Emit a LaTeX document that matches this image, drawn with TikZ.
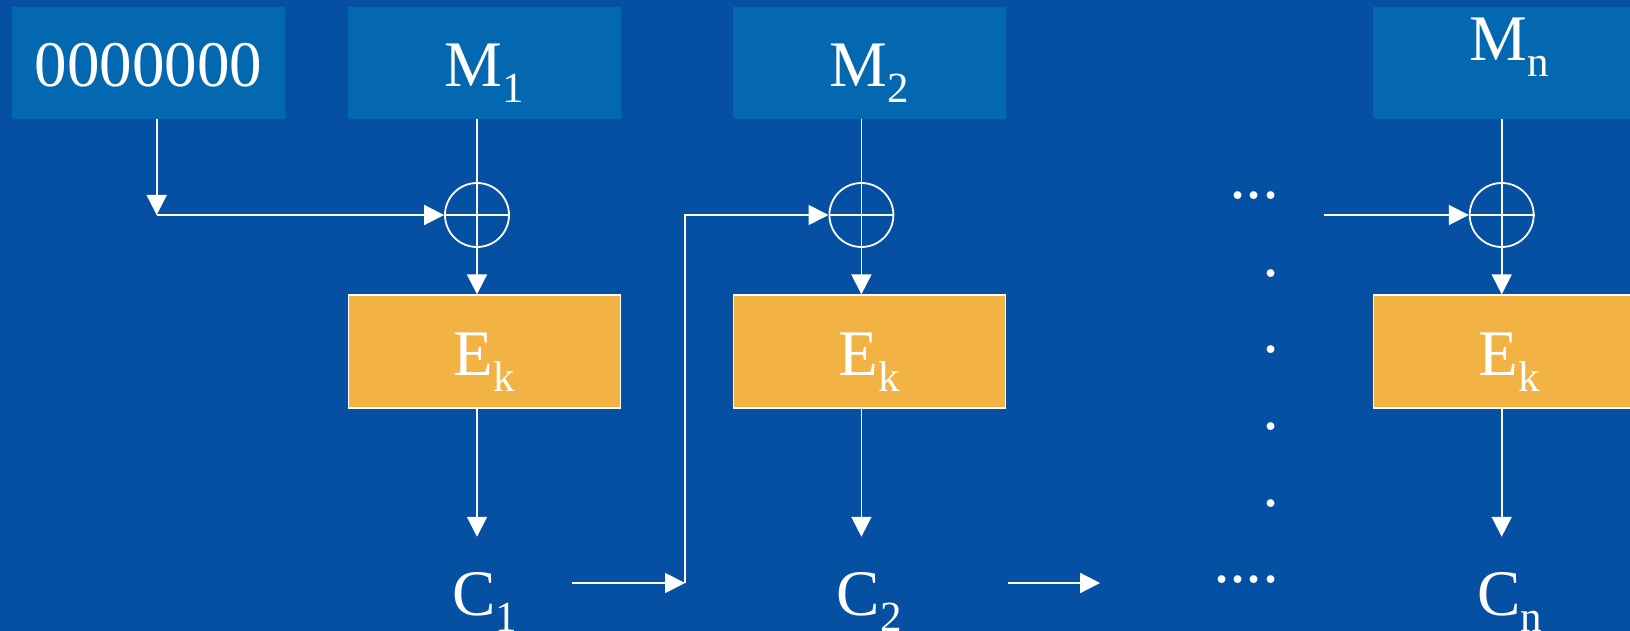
\documentclass[tikz,border=0pt]{standalone}
\usepackage{fontspec}
\setmainfont{Liberation Serif}
\usetikzlibrary{arrows.meta,calc}
\definecolor{bgblue}{HTML}{0550A3}
\definecolor{boxblue}{HTML}{0368B0}
\definecolor{encorange}{HTML}{F3B244}
\newcommand{\lowsub}[1]{\raisebox{-16pt}{\fontsize{43}{43}\selectfont #1}}
\begin{document}
\begin{tikzpicture}[x=1pt,y=-1pt,
  bigtext/.style={text=white,font=\fontsize{65}{78}\selectfont,inner sep=0pt,anchor=base},
  mbox/.style={fill=boxblue,draw=none,minimum width=272.6pt,minimum height=112pt,inner sep=0pt},
  ebox/.style={fill=encorange,draw=white,line width=1.3pt,minimum width=272pt,minimum height=113pt,inner sep=0pt},
  xorc/.style={circle,draw=white,line width=1.8pt,minimum size=64pt,inner sep=0pt},
  wline/.style={draw=white,line width=1.8pt},
  arr/.style={wline,-{Triangle[length=20pt,width=20pt]}},
  dotstyle/.style={text=white,font=\fontsize{65}{78}\selectfont\itshape,inner sep=0pt,anchor=base east}
]
\fill[bgblue] (0,0) rectangle (1630,631);
\useasboundingbox (0,0) rectangle (1630,631);

% input boxes
\node[mbox] (z) at (148.7,63) {};
\node[bigtext] (zt) at (148.7,87) {0000000};
\node[mbox] (m1) at (484.3,63) {};
\node[bigtext] (m1t) at (484.3,87) {M\lowsub{1}};
\node[mbox] (m2) at (869.4,63) {};
\node[bigtext] (m2t) at (869.4,87) {M\lowsub{2}};
\node[mbox] (mn) at (1509.4,63) {};
\node[bigtext] (mnt) at (1509.4,61) {M\lowsub{n}};

% xor circles
\node[xorc] (x1) at (477,215) {};
\node[xorc] (x2) at (861.4,215) {};
\node[xorc] (xn) at (1501.7,215) {};
\foreach \x in {x1,x2,xn}{
  \draw[wline] (\x.north) -- (\x.south) (\x.west) -- (\x.east);
}

% encryption boxes
\node[ebox] (e1) at (484.3,351.5) {};
\node[bigtext] (e1t) at (484.3,375) {E\lowsub{k}};
\node[ebox] (e2) at (869.4,351.5) {};
\node[bigtext] (e2t) at (869.4,375) {E\lowsub{k}};
\node[ebox] (en) at (1509.4,351.5) {};
\node[bigtext] (ent) at (1509.4,375) {E\lowsub{k}};

% ciphertexts
\node[bigtext] (c1) at (484.5,615) {C\lowsub{1}};
\node[bigtext] (c2) at (869.3,615) {C\lowsub{2}};
\node[bigtext] (cn) at (1509.7,615) {C\lowsub{n}};

% dots
\node[dotstyle] (d1) at (1280.5,199) {...};
\node[dotstyle] (d2) at (1280.5,276) {.};
\node[dotstyle] (d3) at (1280.5,352) {.};
\node[dotstyle] (d4) at (1280.5,429) {.};
\node[dotstyle] (d5) at (1280.5,506) {.};
\node[dotstyle] (d6) at (1280.5,582) {....};

% coordinates
\coordinate (j1) at (156.7,215);
\coordinate (k1) at (685,583);

% connectors
\draw[arr] (z.south -| j1) -- (j1);
\draw[arr] (j1) -- (x1.west);
\foreach \m/\x/\e in {m1/x1/e1, m2/x2/e2, mn/xn/en}{
  \draw[wline] (\m.south -| \x) -- (\x.north);
  \draw[arr] (\x.south) -- (\e.north -| \x);
}
\draw[arr,shorten >=35pt] (e1.south -| x1) -- (x1 |- c1.north);
\draw[arr,shorten >=35pt] (e2.south -| x2) -- (x2 |- c2.north);
\draw[arr,shorten >=35pt] (en.south -| xn) -- (xn |- cn.north);

\draw[arr] ($(c1.east |- k1)+(55,0)$) -- (k1);
\draw[arr] (k1) |- (x2.west);
\draw[arr,shorten >=115pt] ($(c2.east |- k1)+(106,0)$) -- (d6.west |- k1);
\draw[arr] ($(d1.east |- xn)+(43,0)$) -- (xn.west);
\end{tikzpicture}
\end{document}
